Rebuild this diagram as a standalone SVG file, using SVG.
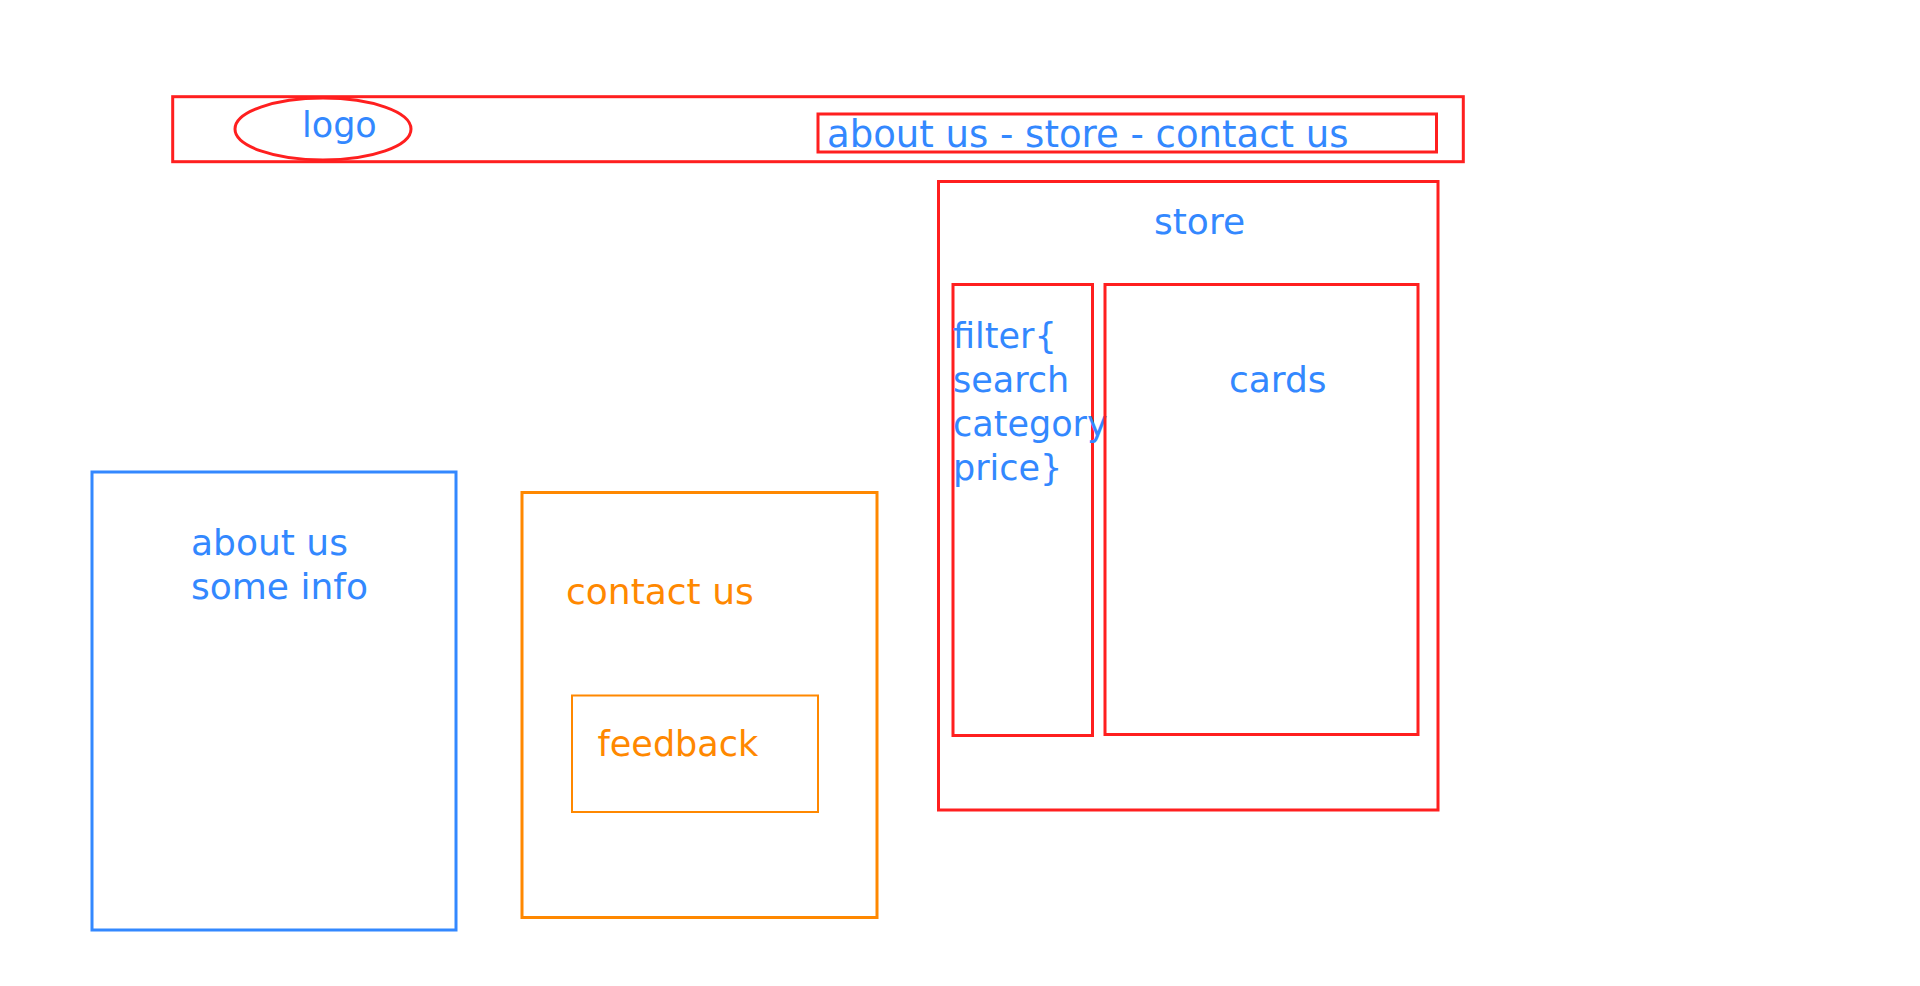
<svg xmlns="http://www.w3.org/2000/svg" width="1920" height="986" viewBox="0 0 1920 986">
<style>
.r{fill:none;stroke:#ff1f1f;stroke-width:3}
.b{fill:none;stroke:#3388ff;stroke-width:3}
.o{fill:none;stroke:#ff8800;stroke-width:3}
.o2{fill:none;stroke:#ff8800;stroke-width:2}
text{font-family:"DejaVu Sans",Verdana,sans-serif;font-size:36px}
.tb{fill:#3388ff}
.to{fill:#ff8800}
.nav{font-size:37px}
.sm{font-size:35px}
</style>
<rect width="1920" height="986" fill="#ffffff"/>
<g id="header">
<rect class="r" x="172.7" y="96.7" width="1290.6" height="65"/>
</g>
<g id="logo">
<ellipse class="r" cx="323" cy="129" rx="88" ry="31"/>
<text class="tb sm" x="302" y="137">logo</text>
</g>
<g id="nav">
<rect class="r" x="818" y="114" width="618.5" height="38"/>
<text class="tb nav" x="827" y="147">about us - store - contact us</text>
</g>
<g id="store">
<rect class="r" x="938.5" y="181.5" width="499.5" height="628.5"/>
<text class="tb" x="1154" y="234">store</text>
</g>
<g id="filter">
<rect class="r" x="953" y="284.5" width="139.5" height="451"/>
<text class="tb sm" x="953" y="348">filter{</text>
<text class="tb sm" x="953" y="392">search</text>
<text class="tb sm" x="953" y="436">category</text>
<text class="tb sm" x="953" y="480">price}</text>
</g>
<g id="cards">
<rect class="r" x="1105" y="284.5" width="313" height="450"/>
<text class="tb" x="1229" y="392">cards</text>
</g>
<g id="about">
<rect class="b" x="92" y="472" width="364" height="458"/>
<text class="tb" x="191" y="555">about us</text>
<text class="tb" x="191" y="599">some info</text>
</g>
<g id="contact">
<rect class="o" x="522" y="492.5" width="355" height="425"/>
<text class="to" x="566" y="604">contact us</text>
</g>
<g id="feedback">
<rect class="o2" x="572" y="695.5" width="246" height="116.5"/>
<text class="to sm" x="597.5" y="755.5">feedback</text>
</g>
<g id="connectors"></g>
</svg>
